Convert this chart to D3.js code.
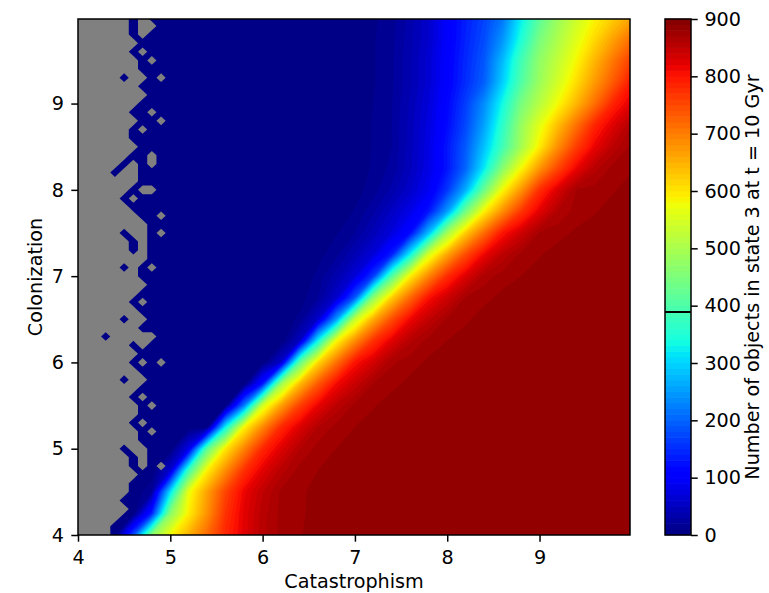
<!DOCTYPE html>
<html>
<head>
<meta charset="utf-8">
<script src="https://cdn.jsdelivr.net/npm/d3@7"></script>
<style>
  body { margin: 0; background: #fff; }
  text { font-family: "DejaVu Sans", sans-serif; fill: #000; }
</style>
</head>
<body>
<svg id="chart" width="769" height="593"></svg>
<script>
// ---- grid layout of the simulated field ----
const xStart = 4, xStep = 0.2;    // columns: Catastrophism 4.0 … 10.0
const yStart = 4, yStep = 0.25;   // rows: Colonization 4.0 … 10.0

const xTicks = [4, 5, 6, 7, 8, 9];
const yTicks = [4, 5, 6, 7, 8, 9];
const cbarTicks = [0, 100, 200, 300, 400, 500, 600, 700, 800, 900];
const markerLevel = 389;          // reference line on the colour bar

// Number of objects in state 3 at t = 10 Gyr, one row per Colonization value (bottom row first)
const row400 = [0,0,0,180,463,580,650,718,784,824,857,873,879, 885,885,885,885,885,885, 885,885,885,885,885,885, 885,885,885,885,885,885];
const row425 = [0,0,0,0,140,464,592,680,772,823,855,873,878,884, 885,885,885,885,885,885, 885,885,885,885,885,885, 885,885,885,885,885];
const row450 = [0,0,0,0,20,308,570,665,755,816,849,872,877, 885,885,885,885,885,885, 885,885,885,885,885,885, 885,885,885,885,885,885];
const row475 = [0,0,0,0,0,60,381,589,684,773,823,855,874,880, 885,885,885,885,885,885, 885,885,885,885,885,885, 885,885,885,885,885];
const row500 = [0,0,0,0,0,0,80,416,599,693,782,826,859,874,880, 885,885,885,885,885,885, 885,885,885,885,885,885, 885,885,885,885];
const row525 = [0,0,0,0,0,0,0,0,330,586,689,781,827,860,874,880, 885,885,885,885,885, 885,885,885,885,885, 885,885,885,885,885];
const row550 = [0,0,0,0,0,0,0,0,0,222,546,665,758,818,852,873,879, 885,885,885,885,885,885,885, 885,885,885,885,885,885,885];
const row575 = [0,0,0,0,0,0,0,0,0,0,133,486,638,735,810,843,871,877,883, 885,885,885,885,885,885, 885,885,885,885,885,885];
const row600 = [0,0,0,0,0,0,0,0,0,0,0,60,416,612,712,802,835,868,876,882, 885,885,885,885,885,885, 885,885,885,885,885];
const row625 = [0,0,0,0,0,0,0,0,0,0,0,0,49,330,581,684,773,824,858,874,880, 885,885,885,885,885, 885,885,885,885,885];
const row650 = [0,0,0,0,0,0,0,0,0,0,0,0,13,58,249,530,654,746,814,848,872,878, 885,885,885,885,885,885,885,885,885];
const row675 = [0,0,0,0,0,0,0,0,0,0,0,0,4,20,60,190,470,623,720,804,839,871,877,883, 885,885,885,885,885,885,885];
const row700 = [0,0,0,0,0,0,0,0,0,0,0,0,0,13,35,68,164,405,591,692,778,828,864,875,880, 885,885,885,885,885,885];
const row725 = [0,0,0,0,0,0,0,0,0,0,0,0,0,6,17,40,70,138,330,552,660,748,815,852,873,879, 885,885,885,885,885];
const row750 = [0,0,0,0,0,0,0,0,0,0,0,0,0,0,9,20,44,72,120,280,493,625,717,800,838,871,876,882, 885,885,885];
const row775 = [0,0,0,0,0,0,0,0,0,0,0,0,0,0,0,11,27,53,81,130,249,439,589,683,767,823,861,874,879,885,885];
const row800 = [0,0,0,0,0,0,0,0,0,0,0,0,0,0,0,5,15,33,58,90,158,265,430,580,675,775,830,870,874,879,884];
const row825 = [0,0,0,0,0,0,0,0,0,0,0,0,0,0,0,2,12,23,48,78,129,200,318,462,580,675,753,816,856,874,879];
const row850 = [0,0,0,0,0,0,0,0,0,0,0,0,0,0,0,2,11,20,45,78,130,191,282,385,492,593,683,761,818,853,873];
const row875 = [0,0,0,0,0,0,0,0,0,0,0,0,0,0,0,2,11,20,44,74,119,175,255,363,479,562,638,712,785,827,861];
const row900 = [0,0,0,0,0,0,0,0,0,0,0,0,0,0,0,0,10,19,42,70,113,166,235,335,445,513,580,645,714,786,826];
const row925 = [0,0,0,0,0,0,0,0,0,0,0,0,0,0,0,0,9,18,38,64,105,150,195,294,401,484,545,608,672,734,797];
const row950 = [0,0,0,0,0,0,0,0,0,0,0,0,0,0,0,0,9,18,38,64,104,146,188,276,385,472,526,583,646,706,761];
const row975 = [0,0,0,0,0,0,0,0,0,0,0,0,0,0,0,0,9,17,36,60,100,141,178,242,345,445,503,559,612,665,715];
const row1000 = [0,0,0,0,0,0,0,0,0,0,0,0,0,0,0,0,8,16,34,60,100,137,171,216,320,413,483,537,585,623,662];

const fieldRows = [row400, row425, row450, row475, row500, row525, row550, row575, row600,
  row625, row650, row675, row700, row725, row750, row775, row800, row825, row850, row875,
  row900, row925, row950, row975, row1000];

// Cells with no result (left edge), 0.1 spacing from x = 4.0; first string = Colonization 10.0
const maskStart = 4, maskStep = 0.1;
const undefinedCells = [
  "######.#....", "######.##...", "######.#....", "#######.....", "######.#....",
  "#######.#...", "#######.....", "#####.##.#..", "#######.....", "########....",
  "#######.....", "######..#...", "#######..#..", "######.#....", "######......",
  "#######.....", "######..#...", "#####.#.#...", "####.##.....", "#######.....",
  "######.##...", "#####.#.....", "######......", "#######..#..", "########....",
  "#####.##.#..", "######.#....", "######.#....", "########....", "#####.#.#...",
  "#######.....", "########....", "#######.....", "######.#....", "#######.....",
  "#####.##....", "#######.....", "###.#####...", "######.#....", "#######.....",
  "######.#.#..", "#######.....", "#####.##....", "#######.....", "######.#....",
  "#######.#...", "#######.....", "######.#....", "#######.#...", "#######.....",
  "#####.##....", "######.#....", "######.#.#..", "#######.....", "######......",
  "######......", "#####.......", "######......", "#####.......", "####........",
  "####........"
];

// ---- jet colour map ----
const jetR = d3.scaleLinear().domain([0, 0.35, 0.66, 0.89, 1]).range([0, 0, 1, 1, 0.5]).clamp(true);
const jetG = d3.scaleLinear().domain([0, 0.125, 0.375, 0.64, 0.91, 1]).range([0, 0, 1, 1, 0, 0]).clamp(true);
const jetB = d3.scaleLinear().domain([0, 0.11, 0.34, 0.65, 1]).range([0.5, 1, 1, 0, 0]).clamp(true);
const norm = d3.scaleLinear().domain([0, 900]).clamp(true);
const jet = v => { const t = norm(v); return d3.rgb(255 * jetR(t), 255 * jetG(t), 255 * jetB(t)).formatHex(); };

const levelStep = 10;
const levels = d3.range(0, 900, levelStep);

// ---- layout ----
const svg = d3.select("#chart");
const xDom = [4, 9.98], yDom = [4, 9.98];
const x = d3.scaleLinear().domain(xDom).range([78, 630]);
const y = d3.scaleLinear().domain(yDom).range([535, 19]);
const fontSize = "19.2px";
const tickLen = 6.7, lineW = 1.5;

svg.append("defs").append("clipPath").attr("id", "plot-clip")
  .append("rect")
  .attr("x", x(xDom[0])).attr("y", y(yDom[1]))
  .attr("width", x(xDom[1]) - x(xDom[0])).attr("height", y(yDom[0]) - y(yDom[1]));

const gridPath = (x0, dx, y0, dy) => d3.geoPath(d3.geoTransform({
  point(px, py) { this.stream.point(x(x0 + (px - 0.5) * dx), y(y0 + (py - 0.5) * dy)); }
}));

const plot = svg.append("g").attr("clip-path", "url(#plot-clip)");

// filled contour layers
const nx = fieldRows[0].length, ny = fieldRows.length;
const fieldPath = gridPath(xStart, xStep, yStart, yStep);
const bands = d3.contours().size([nx, ny]).thresholds(levels)(fieldRows.flat());
plot.selectAll("path.band").data(bands).join("path")
  .attr("class", "band")
  .attr("d", fieldPath)
  .attr("fill", d => jet(d.value + levelStep / 2))
  .attr("stroke", d => jet(d.value + levelStep / 2))
  .attr("stroke-width", 0.4);

// cells without a result drawn in grey
const maskGrid = undefinedCells.slice().reverse().map(s => Array.from(s, ch => ch === "#" ? 1 : 0));
const maskPath = gridPath(maskStart, maskStep, yStart, maskStep);
const maskShapes = d3.contours().size([maskGrid[0].length, maskGrid.length]).thresholds([0.5])(maskGrid.flat());
plot.selectAll("path.nan").data(maskShapes).join("path")
  .attr("class", "nan")
  .attr("d", maskPath)
  .attr("fill", "#808080");

// axes
const xAxis = svg.append("g").attr("transform", `translate(0,${y(yDom[0])})`)
  .call(d3.axisBottom(x).tickValues(xTicks).tickFormat(d3.format("d")).tickSize(tickLen).tickPadding(8.3));
const yAxis = svg.append("g").attr("transform", `translate(${x(xDom[0])},0)`)
  .call(d3.axisLeft(y).tickValues(yTicks).tickFormat(d3.format("d")).tickSize(tickLen).tickPadding(7.3));
[xAxis, yAxis].forEach(g => {
  g.select(".domain").remove();
  g.selectAll(".tick line").attr("stroke", "#000").attr("stroke-width", lineW);
  g.selectAll(".tick text").style("font-size", fontSize).attr("fill", "#000");
});

svg.append("rect")
  .attr("x", x(xDom[0])).attr("y", y(yDom[1]))
  .attr("width", x(xDom[1]) - x(xDom[0])).attr("height", y(yDom[0]) - y(yDom[1]))
  .attr("fill", "none").attr("stroke", "#000").attr("stroke-width", lineW);

svg.append("text").attr("x", (x(xDom[0]) + x(xDom[1])) / 2).attr("y", 588)
  .attr("text-anchor", "middle").style("font-size", fontSize).text("Catastrophism");
svg.append("text").attr("transform", `translate(41.5,${(y(yDom[0]) + y(yDom[1])) / 2}) rotate(-90)`)
  .attr("text-anchor", "middle").style("font-size", fontSize).text("Colonization");

// colour bar
const cbX = 665, cbW = 26;
const cb = d3.scaleLinear().domain([0, 900]).range([535, 19]);
const cbar = svg.append("g");
cbar.selectAll("rect.cb").data(levels).join("rect")
  .attr("class", "cb")
  .attr("x", cbX).attr("width", cbW)
  .attr("y", d => cb(d + levelStep) - 0.3)
  .attr("height", d => cb(d) - cb(d + levelStep) + 0.6)
  .attr("fill", d => jet(d + levelStep / 2));
cbar.append("line")
  .attr("x1", cbX).attr("x2", cbX + cbW)
  .attr("y1", cb(markerLevel)).attr("y2", cb(markerLevel))
  .attr("stroke", "#000").attr("stroke-width", 2);
cbar.append("rect")
  .attr("x", cbX).attr("y", cb(900)).attr("width", cbW).attr("height", cb(0) - cb(900))
  .attr("fill", "none").attr("stroke", "#000").attr("stroke-width", lineW);
const cAxis = svg.append("g").attr("transform", `translate(${cbX + cbW},0)`)
  .call(d3.axisRight(cb).tickValues(cbarTicks).tickFormat(d3.format("d")).tickSize(tickLen).tickPadding(6.7));
cAxis.select(".domain").remove();
cAxis.selectAll(".tick line").attr("stroke", "#000").attr("stroke-width", lineW);
cAxis.selectAll(".tick text").style("font-size", fontSize).attr("fill", "#000");

svg.append("text").attr("transform", `translate(759,${(cb(0) + cb(900)) / 2}) rotate(-90)`)
  .attr("text-anchor", "middle").style("font-size", fontSize)
  .text("Number of objects in state 3 at t = 10 Gyr");
</script>
</body>
</html>
